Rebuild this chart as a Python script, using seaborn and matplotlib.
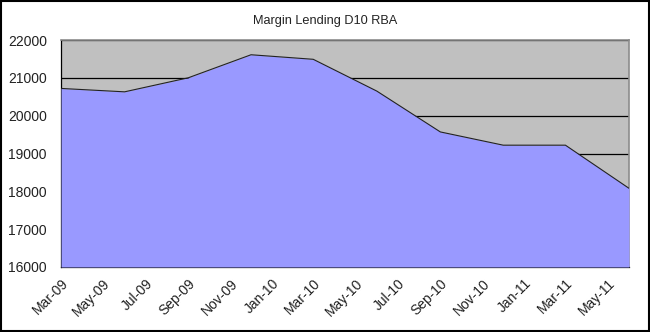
import matplotlib
matplotlib.use("Agg")
import matplotlib.pyplot as plt
import matplotlib.dates as mdates
import pandas as pd
import seaborn as sns

# Quarterly margin lending balances (RBA table D10)
quarters = ["2009-03-01", "2009-06-01", "2009-09-01", "2009-12-01", "2010-03-01",
            "2010-06-01", "2010-09-01", "2010-12-01", "2011-03-01", "2011-06-01"]
balances = [20720, 20630, 21000, 21610, 21490, 20650, 19570, 19220, 19220, 18080]

title = "Margin Lending D10 RBA"
y_ticks = [16000, 17000, 18000, 19000, 20000, 21000, 22000]

df = pd.DataFrame({"date": pd.to_datetime(quarters), "value": balances})

sns.set_style("white")
plt.rcParams["font.family"] = ["Liberation Sans", "DejaVu Sans"]

fig = plt.figure(figsize=(6.5, 3.32), dpi=100)
ax = fig.add_axes([61 / 650, 1 - 267 / 332, (629 - 61) / 650, (267 - 40) / 332])
ax.set_facecolor("#C0C0C0")

ax.fill_between(df["date"], df["value"], 16000, color="#9999FF", zorder=3, linewidth=0)
sns.lineplot(data=df, x="date", y="value", ax=ax, color="#222222", linewidth=0.8, zorder=4)

ax.set_ylim(16000, 22000)
ax.set_yticks(y_ticks)
ax.set_xlim(df["date"].iloc[0], df["date"].iloc[-1])
ax.xaxis.set_major_locator(mdates.MonthLocator(bymonth=[1, 3, 5, 7, 9, 11]))
ax.xaxis.set_major_formatter(mdates.DateFormatter("%b-%y"))

ax.grid(axis="y", color="black", linewidth=0.9, zorder=1)
ax.set_axisbelow(True)
ax.set_xlabel("")
ax.set_ylabel("")

for side in ["top", "right"]:
    ax.spines[side].set_color("#8C8C8C")
    ax.spines[side].set_linewidth(1.2)
for side in ["left", "bottom"]:
    ax.spines[side].set_color("black")
    ax.spines[side].set_linewidth(0.9)

ax.tick_params(axis="both", direction="out", length=3.6, width=0.8, color="black",
               labelsize=10, labelcolor="#222222")
ax.tick_params(axis="y", pad=6.5)
ax.tick_params(axis="x", pad=3)
plt.setp(ax.get_xticklabels(), rotation=45, ha="right", rotation_mode="anchor", fontsize=10)

fig.text(0.5, 1 - 21 / 332, title, ha="center", va="center", fontsize=9.2, color="#222222")

# Black frame around the whole figure
fig.patches.append(plt.Rectangle((0.001, 0.002), 0.997, 0.995, transform=fig.transFigure,
                                 fill=False, edgecolor="black", linewidth=1.5))

fig.savefig("out.png", dpi=100)
